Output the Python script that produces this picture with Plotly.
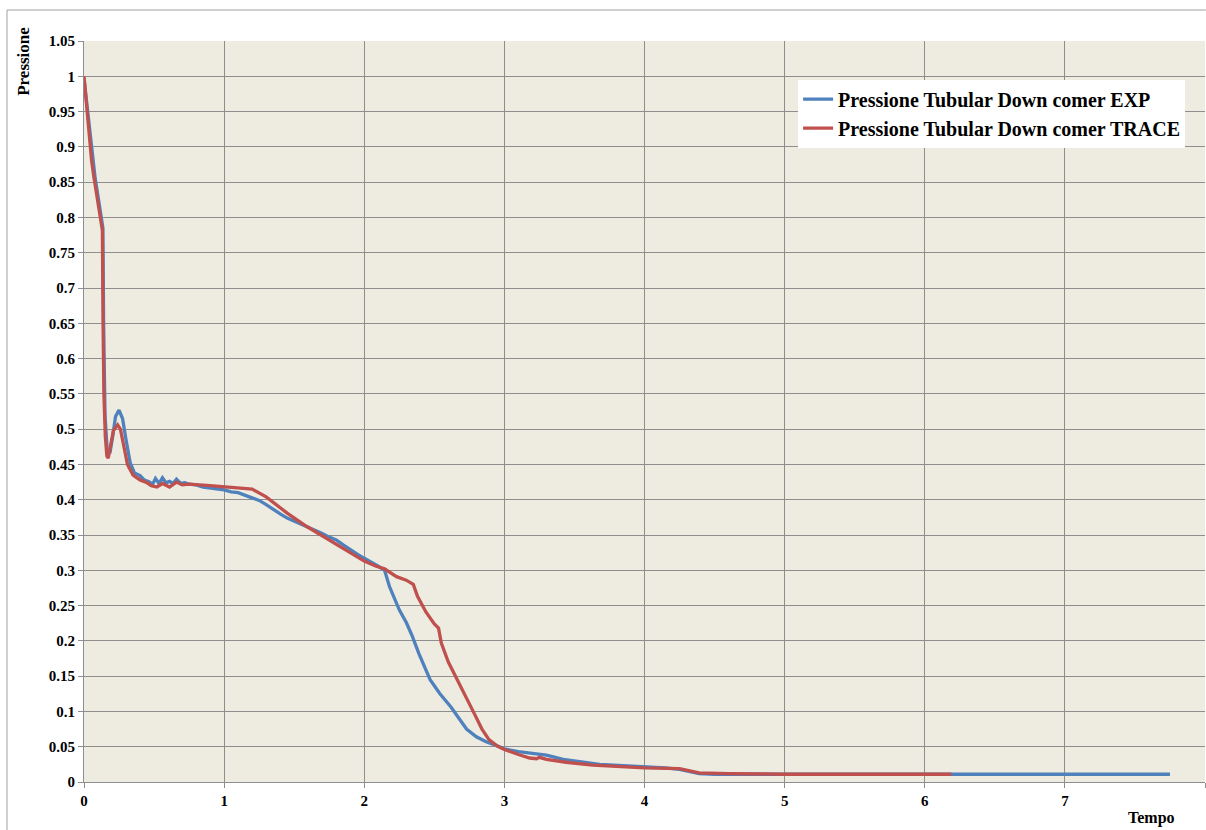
import plotly.graph_objects as go

# ---- data ----
exp_t = [0, 0.012, 0.025, 0.04, 0.06, 0.08, 0.1, 0.12, 0.135, 0.14, 0.15, 0.165, 0.185, 0.205,
         0.225, 0.25, 0.275, 0.3, 0.33, 0.36, 0.4, 0.43, 0.46, 0.49, 0.51, 0.535, 0.56, 0.585,
         0.61, 0.635, 0.66, 0.69, 0.72, 0.75, 0.8, 0.85, 0.9, 0.95, 1.0, 1.05, 1.1, 1.18, 1.25,
         1.3, 1.35, 1.4, 1.45, 1.52, 1.59, 1.65, 1.7, 1.75, 1.8, 1.85, 1.9, 1.95, 2.0, 2.05, 2.1,
         2.145, 2.18, 2.25, 2.3, 2.34, 2.39, 2.47, 2.54, 2.62, 2.68, 2.73, 2.8, 2.87, 2.95, 3.0,
         3.1, 3.18, 3.25, 3.3, 3.42, 3.55, 3.68, 3.85, 4.0, 4.15, 4.25, 4.32, 4.39, 4.5, 4.63,
         5.0, 5.5, 6.0, 6.5, 7.0, 7.5, 7.75]
exp_p = [0.997, 0.975, 0.952, 0.922, 0.885, 0.855, 0.83, 0.805, 0.785, 0.65, 0.52, 0.472, 0.466,
         0.49, 0.518, 0.527, 0.515, 0.485, 0.452, 0.438, 0.434, 0.428, 0.426, 0.422, 0.43, 0.423,
         0.431, 0.424, 0.426, 0.423, 0.429, 0.423, 0.424, 0.422, 0.421, 0.418, 0.417, 0.415, 0.414,
         0.411, 0.41, 0.404, 0.399, 0.393, 0.386, 0.380, 0.374, 0.368, 0.362, 0.357, 0.352, 0.347,
         0.343, 0.336, 0.329, 0.323, 0.317, 0.312, 0.306, 0.300, 0.277, 0.244, 0.226, 0.208, 0.182,
         0.145, 0.125, 0.106, 0.088, 0.075, 0.064, 0.057, 0.051, 0.047, 0.043, 0.041, 0.040, 0.038,
         0.032, 0.028, 0.025, 0.023, 0.022, 0.020, 0.018, 0.015, 0.012, 0.011, 0.011, 0.010, 0.011,
         0.011, 0.011, 0.011, 0.011, 0.011]

trace_t = [0, 0.02, 0.035, 0.054, 0.07, 0.09, 0.11, 0.131, 0.136, 0.142, 0.152, 0.163, 0.173,
           0.19, 0.21, 0.24, 0.26, 0.285, 0.31, 0.35, 0.4, 0.45, 0.48, 0.52, 0.56, 0.61, 0.66,
           0.7, 0.75, 0.9, 1.0, 1.1, 1.2, 1.3, 1.35, 1.45, 1.59, 1.7, 1.8, 1.9, 2.0, 2.08, 2.145,
           2.23, 2.3, 2.35, 2.38, 2.44, 2.5, 2.53, 2.55, 2.6, 2.66, 2.72, 2.78, 2.84, 2.89, 2.95,
           3.0, 3.1, 3.18, 3.23, 3.25, 3.3, 3.44, 3.63, 3.8, 4.0, 4.25, 4.32, 4.39, 4.6, 5.0, 5.5,
           6.19]
trace_p = [1.0, 0.952, 0.918, 0.881, 0.858, 0.835, 0.81, 0.782, 0.65, 0.55, 0.49, 0.462, 0.459,
           0.475, 0.498, 0.506, 0.5, 0.475, 0.45, 0.435, 0.428, 0.424, 0.42, 0.418, 0.423, 0.418,
           0.425, 0.421, 0.422, 0.42, 0.418, 0.417, 0.415, 0.404, 0.396, 0.381, 0.362, 0.349, 0.338,
           0.325, 0.313, 0.306, 0.302, 0.291, 0.286, 0.28, 0.263, 0.241, 0.224, 0.218, 0.197, 0.17,
           0.147, 0.122, 0.099, 0.075, 0.060, 0.051, 0.046, 0.039, 0.034, 0.033, 0.035, 0.032, 0.028,
           0.024, 0.022, 0.020, 0.019, 0.016, 0.013, 0.012, 0.011, 0.011, 0.011]

x_ticks = [0, 1, 2, 3, 4, 5, 6, 7, 8]
y_ticks = [0, 0.05, 0.1, 0.15, 0.2, 0.25, 0.3, 0.35, 0.4, 0.45, 0.5, 0.55, 0.6, 0.65, 0.7,
           0.75, 0.8, 0.85, 0.9, 0.95, 1, 1.05]
y_labels = ["0", "0.05", "0.1", "0.15", "0.2", "0.25", "0.3", "0.35", "0.4", "0.45", "0.5",
            "0.55", "0.6", "0.65", "0.7", "0.75", "0.8", "0.85", "0.9", "0.95", "1", "1.05"]

FONT = "Liberation Serif"
GRID = "#8E8E8E"

fig = go.Figure()
fig.add_trace(go.Scatter(x=exp_t, y=exp_p, mode="lines",
                         name="<b>Pressione Tubular Down comer EXP</b>",
                         line=dict(color="#4F81BD", width=3.3)))
fig.add_trace(go.Scatter(x=trace_t, y=trace_p, mode="lines",
                         name="<b>Pressione Tubular Down comer TRACE</b>",
                         line=dict(color="#C0504D", width=3.3)))

fig.update_layout(
    width=1206, height=830,
    margin=dict(l=84, r=1, t=41, b=48),
    paper_bgcolor="white",
    plot_bgcolor="#EEECE1",
    font=dict(family=FONT, color="black", size=15),
    showlegend=True,
    legend=dict(x=0.637, y=0.948, xanchor="left", yanchor="top",
                bgcolor="white", borderwidth=0, itemwidth=30,
                font=dict(family=FONT, size=20, color="black")),
    xaxis=dict(range=[0, 8], tickvals=x_ticks, ticktext=[f"<b>{v}</b>" for v in x_ticks],
               showgrid=True, gridcolor=GRID, gridwidth=1,
               showline=True, linecolor=GRID, linewidth=1,
               ticks="outside", ticklen=5, tickcolor=GRID, zeroline=False,
               tickfont=dict(family=FONT, size=15)),
    yaxis=dict(range=[0, 1.05], tickvals=y_ticks, ticktext=[f"<b>{s}</b>" for s in y_labels],
               showgrid=True, gridcolor=GRID, gridwidth=1,
               showline=True, linecolor=GRID, linewidth=1,
               ticks="outside", ticklen=5, tickcolor=GRID, zeroline=False,
               tickfont=dict(family=FONT, size=15)),
    annotations=[
        dict(text="<b>Pressione</b>", xref="paper", yref="paper", x=-0.0535, y=0.972,
             textangle=-90, showarrow=False, font=dict(family=FONT, size=17),
             xanchor="center", yanchor="middle"),
        dict(text="<b>Tempo</b>", xref="paper", yref="paper", x=0.952, y=-0.049,
             showarrow=False, font=dict(family=FONT, size=16),
             xanchor="center", yanchor="middle"),
    ],
    shapes=[
        dict(type="line", xref="paper", yref="paper", x0=-0.0687, y0=-0.08, x1=-0.0687, y1=1.0418,
             line=dict(color="#A0A0A0", width=1), layer="below"),
        dict(type="line", xref="paper", yref="paper", x0=-0.0687, y0=1.0418, x1=1.0008, y1=1.0418,
             line=dict(color="#A0A0A0", width=1), layer="below"),
    ],
)

fig.write_html("out.html")
